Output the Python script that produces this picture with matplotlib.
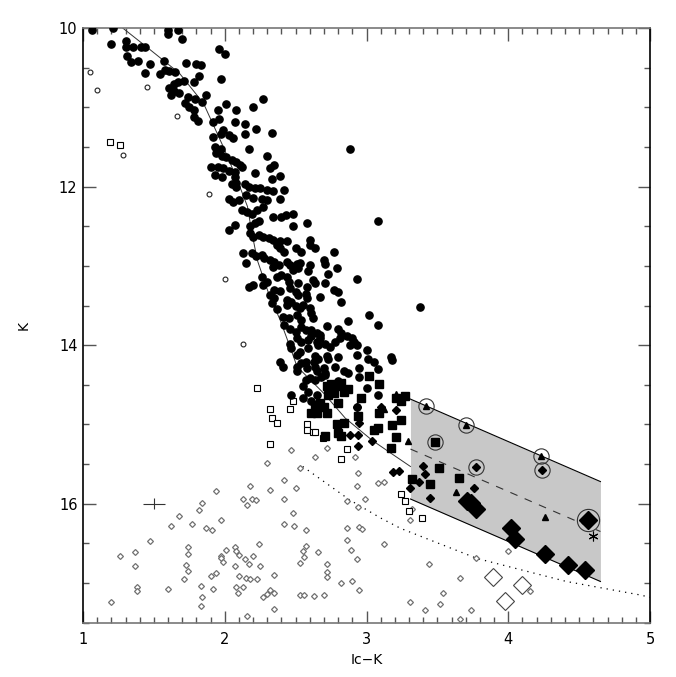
import matplotlib
matplotlib.use("Agg")
import matplotlib.pyplot as plt
import numpy as np
from matplotlib.ticker import MultipleLocator

# ---- data -----------------------------------------------------------------
# filled black circles (main sequence members)
circle_pts = [
    (1.06, 10.02), (1.21, 10.00), (1.60, 10.03), (1.60, 10.07), (1.67, 10.02),
    (1.20, 10.20), (1.70, 10.14), (1.30, 10.16), (1.30, 10.24), (1.35, 10.24),
    (1.41, 10.24), (1.44, 10.24), (1.96, 10.27), (2.00, 10.33), (1.31, 10.35),
    (1.34, 10.43), (1.39, 10.42), (1.47, 10.45), (1.57, 10.41), (1.73, 10.44),
    (1.80, 10.45), (1.83, 10.47), (1.44, 10.57), (1.54, 10.58), (1.58, 10.53),
    (1.61, 10.54), (1.65, 10.55), (1.82, 10.60), (1.71, 10.67), (1.78, 10.68),
    (1.97, 10.64), (1.64, 10.70), (1.67, 10.68), (1.61, 10.76), (1.64, 10.80),
    (1.68, 10.82), (1.62, 10.84), (1.74, 10.87), (1.79, 10.89), (1.87, 10.84),
    (1.84, 10.93), (1.72, 10.95), (1.75, 11.00), (1.78, 11.04), (2.01, 10.96),
    (2.27, 10.90), (2.20, 10.99), (2.08, 11.04), (1.95, 11.03), (1.78, 11.12),
    (1.81, 11.17), (1.92, 11.19), (1.96, 11.15), (2.07, 11.18), (2.14, 11.21),
    (2.22, 11.27), (2.33, 11.33), (1.99, 11.29), (1.97, 11.34), (2.03, 11.35),
    (2.06, 11.39), (1.92, 11.37), (2.14, 11.34), (1.93, 11.50), (1.97, 11.53),
    (1.94, 11.57), (2.17, 11.53), (2.88, 11.52), (2.30, 11.62), (1.98, 11.62),
    (2.01, 11.63), (2.05, 11.66), (2.08, 11.69), (2.11, 11.73), (1.90, 11.75),
    (1.95, 11.75), (1.99, 11.76), (2.03, 11.80), (2.07, 11.82), (2.12, 11.75),
    (2.21, 11.83), (2.32, 11.77), (2.35, 11.73), (1.93, 11.85), (1.98, 11.88),
    (2.07, 11.88), (2.08, 11.95), (2.33, 11.90), (2.39, 11.87), (2.05, 11.97),
    (2.08, 12.00), (2.14, 11.97), (2.17, 12.00), (2.21, 12.02), (2.25, 12.02),
    (2.30, 12.04), (2.34, 12.06), (2.42, 12.04), (2.39, 12.15), (2.03, 12.16),
    (2.06, 12.19), (2.10, 12.17), (2.15, 12.10), (2.20, 12.14), (2.26, 12.15),
    (2.30, 12.17), (2.12, 12.29), (2.16, 12.32), (2.19, 12.35), (2.23, 12.29),
    (2.27, 12.26), (2.34, 12.38), (2.40, 12.38), (2.43, 12.36), (2.48, 12.35),
    (3.08, 12.44),
    (2.03, 12.55), (2.07, 12.48), (2.18, 12.50), (2.21, 12.46), (2.24, 12.44),
    (2.48, 12.50), (2.58, 12.46), (2.18, 12.59), (2.20, 12.63), (2.24, 12.61),
    (2.27, 12.63), (2.31, 12.65), (2.34, 12.67), (2.39, 12.68), (2.44, 12.69),
    (2.37, 12.74), (2.39, 12.78), (2.42, 12.82), (2.50, 12.78), (2.54, 12.82),
    (2.60, 12.67), (2.60, 12.74), (2.64, 12.78), (2.77, 12.83), (2.13, 12.84),
    (2.19, 12.84), (2.22, 12.88), (2.26, 12.86), (2.28, 12.90), (2.32, 12.93),
    (2.15, 12.96), (2.35, 12.95), (2.38, 12.99), (2.34, 13.01), (2.44, 12.95),
    (2.46, 12.99), (2.51, 12.97), (2.53, 12.96), (2.48, 13.05), (2.52, 13.03),
    (2.60, 12.99), (2.59, 13.07), (2.70, 12.93), (2.71, 12.97), (2.79, 13.03),
    (2.73, 13.10), (2.26, 13.14), (2.37, 13.14), (2.40, 13.11), (2.44, 13.14),
    (2.45, 13.20), (2.52, 13.22), (2.62, 13.18), (2.64, 13.22), (2.58, 13.26),
    (2.71, 13.22), (2.93, 13.17), (2.17, 13.26), (2.20, 13.24), (2.27, 13.24),
    (2.30, 13.20), (2.35, 13.30), (2.39, 13.32), (2.46, 13.28), (2.50, 13.33),
    (2.52, 13.37), (2.57, 13.35), (2.58, 13.41), (2.77, 13.30), (2.80, 13.33),
    (2.67, 13.39), (2.82, 13.45), (2.32, 13.37), (2.35, 13.41), (2.33, 13.47),
    (2.37, 13.54), (2.44, 13.43), (2.47, 13.45), (2.44, 13.49), (2.50, 13.51),
    (2.53, 13.53), (2.55, 13.49), (2.60, 13.53), (2.61, 13.60), (3.38, 13.52),
    (3.02, 13.62), (2.41, 13.64), (2.45, 13.66), (2.51, 13.62), (2.54, 13.68),
    (2.62, 13.66), (2.42, 13.74), (2.46, 13.79), (2.54, 13.77), (2.57, 13.81),
    (2.61, 13.81), (2.65, 13.85), (2.67, 13.87), (2.72, 13.76), (2.80, 13.79),
    (2.82, 13.85), (2.87, 13.70), (3.08, 13.74), (2.50, 13.83), (2.51, 13.91),
    (2.54, 13.96), (2.59, 13.93), (2.61, 13.89), (2.65, 13.96), (2.67, 13.91),
    (2.71, 13.98), (2.74, 14.02), (2.78, 13.96), (2.81, 13.91), (2.86, 13.89),
    (2.90, 13.91), (2.91, 13.96), (2.46, 13.98), (2.47, 14.04), (2.59, 14.04),
    (2.66, 14.00), (2.88, 14.00), (2.93, 14.00), (3.00, 14.06), (2.51, 14.12),
    (2.53, 14.08), (2.64, 14.14), (2.66, 14.17), (2.63, 14.21), (2.72, 14.14),
    (2.73, 14.17), (2.80, 14.15), (2.93, 14.12), (3.01, 14.17), (3.05, 14.21),
    (3.17, 14.15), (3.18, 14.19), (2.39, 14.21), (2.41, 14.27), (2.51, 14.27),
    (2.54, 14.23), (2.57, 14.21), (2.51, 14.33), (2.58, 14.29), (2.64, 14.27),
    (2.65, 14.33), (2.70, 14.29), (2.71, 14.35), (2.78, 14.27), (2.84, 14.33),
    (2.87, 14.35), (2.95, 14.29), (3.08, 14.30), (2.57, 14.44), (2.60, 14.42),
    (2.64, 14.44), (2.68, 14.40), (2.71, 14.38), (2.80, 14.45), (2.95, 14.40),
    (2.47, 14.63), (2.55, 14.52), (2.59, 14.59), (2.55, 14.67), (2.61, 14.71),
    (2.65, 14.63), (3.00, 14.54), (2.93, 14.78), (3.08, 14.63),
]

# small open circles and small open squares (bright non-members)
open_circle_pts = [
    (1.05, 10.55), (1.10, 10.78), (1.45, 10.74), (1.66, 11.11), (1.28, 11.60),
    (1.89, 12.09), (2.13, 13.98), (2.00, 13.17),
]
open_square_pts = [
    (1.19, 11.44), (1.26, 11.48), (2.23, 14.54), (2.48, 14.71), (2.46, 14.80),
    (2.32, 14.80), (2.33, 14.92), (2.37, 14.98), (2.32, 15.25), (2.58, 14.99),
    (2.58, 15.07), (2.62, 15.10), (2.64, 15.10), (2.69, 15.17), (2.86, 15.31),
    (2.82, 15.44), (3.24, 15.88), (3.27, 15.97), (3.30, 16.09), (3.39, 16.18),
]

square_pts = [
    (3.02, 14.39), (3.09, 14.49), (2.96, 14.66), (2.80, 14.73), (2.72, 14.52),
    (2.75, 14.49), (2.79, 14.52), (2.82, 14.48), (2.84, 14.59), (2.77, 14.60),
    (2.73, 14.63), (2.87, 14.55), (2.64, 14.75), (2.67, 14.73), (2.70, 14.78),
    (2.61, 14.86), (2.65, 14.86), (2.72, 14.86), (2.94, 14.89), (2.79, 14.99),
    (2.84, 14.98), (2.80, 15.11), (2.82, 15.15), (2.71, 15.15), (3.05, 15.07),
    (3.08, 15.05), (3.18, 15.01), (3.24, 14.94), (3.21, 15.16), (3.17, 15.30),
    (3.09, 14.86), (3.21, 14.66), (3.27, 14.64), (3.24, 14.71), (3.32, 15.69),
    (3.45, 15.75), (3.51, 15.55), (3.48, 15.22), (3.65, 15.67),
]

diamond_pts = [
    (3.21, 14.82), (3.10, 14.78), (2.93, 14.78), (2.95, 14.98), (2.88, 15.13),
    (2.94, 15.13), (2.94, 15.27), (3.04, 15.21), (3.19, 15.60), (3.23, 15.59),
    (3.37, 15.73), (3.41, 15.62), (3.40, 15.52), (3.31, 15.80), (3.45, 15.93),
    (3.76, 15.80), (3.77, 15.53), (4.24, 15.58),
]

triangle_pts = [
    (3.21, 14.61), (3.12, 14.80), (3.29, 15.21), (3.63, 15.85), (4.26, 16.17),
    (3.42, 14.77), (3.70, 15.01), (4.23, 15.40),
]

big_diamond_pts = [
    (3.71, 15.97), (3.74, 15.99), (3.77, 16.06), (4.02, 16.30), (4.05, 16.45),
    (4.26, 16.63), (4.42, 16.77), (4.54, 16.84), (4.56, 16.21),
]
big_open_diamond_pts = [(3.89, 16.92), (4.10, 17.02), (3.98, 17.23)]

circled_pts = [
    (3.42, 14.77), (3.70, 15.01), (4.23, 15.40), (4.24, 15.58), (3.77, 15.53),
    (3.48, 15.22), (4.56, 16.21),
]
star_pt = (4.60, 16.41)

# faint field stars
field_pts = [
    (2.47, 15.32), (2.72, 15.30), (2.64, 15.41), (2.92, 15.41), (2.94, 15.61),
    (2.30, 15.48), (2.53, 15.55), (2.42, 15.70), (2.50, 15.80), (2.32, 15.83),
    (2.18, 15.78), (1.94, 15.84), (2.13, 15.94), (2.19, 15.94), (2.22, 15.95),
    (2.16, 16.02), (2.42, 15.94), (2.93, 15.78), (3.08, 15.74), (3.12, 15.73),
    (2.99, 15.94), (2.86, 15.96), (2.94, 16.04), (1.84, 15.99), (1.82, 16.08),
    (1.68, 16.16), (1.97, 16.20), (1.77, 16.25), (1.87, 16.30), (1.91, 16.33),
    (1.62, 16.28), (2.48, 16.12), (2.42, 16.26), (2.49, 16.28), (2.57, 16.33),
    (2.86, 16.31), (2.95, 16.29), (2.97, 16.32), (3.12, 16.51), (1.47, 16.47),
    (1.26, 16.66), (1.37, 16.61), (1.37, 16.78), (1.74, 16.54), (1.74, 16.63),
    (1.73, 16.77), (1.74, 16.85), (1.71, 16.95), (2.01, 16.58), (1.97, 16.66),
    (1.97, 16.69), (1.99, 16.73), (2.07, 16.54), (2.08, 16.59), (2.10, 16.65),
    (2.14, 16.70), (2.17, 16.76), (2.20, 16.66), (2.24, 16.51), (2.25, 16.78),
    (2.07, 16.78), (2.10, 16.91), (2.15, 16.93), (2.18, 16.95), (2.23, 16.95),
    (1.90, 16.91), (1.94, 16.87), (1.83, 17.04), (1.60, 17.07), (1.38, 17.05),
    (1.38, 17.10), (1.92, 17.08), (1.84, 17.18), (2.08, 17.05), (2.13, 17.05),
    (2.09, 17.13), (1.83, 17.29), (1.20, 17.24), (2.27, 17.17), (2.30, 17.14),
    (2.32, 17.09), (2.35, 17.12), (2.35, 17.33), (2.35, 16.90), (2.16, 17.41),
    (2.53, 16.75), (2.55, 16.60), (2.56, 16.67), (2.57, 16.53), (2.66, 16.61),
    (2.72, 16.76), (2.72, 16.86), (2.72, 16.92), (2.53, 17.15), (2.56, 17.15),
    (2.63, 17.16), (2.70, 17.15), (2.82, 17.00), (2.90, 16.97), (2.95, 17.09),
    (2.86, 16.46), (2.89, 16.58), (2.93, 16.70), (3.32, 16.06),
    (3.31, 16.20), (3.44, 16.76), (3.77, 16.69), (4.00, 16.60),
    (3.66, 16.94), (3.54, 17.13), (3.31, 17.24), (3.52, 17.26), (3.41, 17.34),
    (3.74, 17.34), (4.15, 17.10), (3.66, 17.45),
]

# model sequence (solid) and lower limit (dotted)
iso_x = [1.28, 1.45, 1.68, 1.85, 1.99, 2.08, 2.16, 2.19, 2.23, 2.31, 2.39,
         2.46, 2.51, 2.70, 2.85, 3.04, 3.17, 3.31]
iso_k = [10.0, 10.24, 10.57, 10.95, 11.50, 11.88, 12.25, 12.57, 12.93, 13.35,
         13.68, 14.02, 14.27, 14.61, 14.92, 15.20, 15.36, 15.53]
lim_x = [2.55, 2.88, 3.10, 3.24, 3.78, 4.41, 4.93, 5.0]
lim_k = [15.53, 15.95, 16.18, 16.31, 16.69, 16.98, 17.15, 17.18]

# shaded band
band_x = [3.31, 4.65]
band_top = [14.68, 15.72]
band_bot = [15.94, 16.98]

# typical error bar
err_x, err_k = 1.50, 16.0
err_dx, err_dk = 0.08, 0.07


def xy(pts):
    a = np.array(pts)
    return a[:, 0], a[:, 1]


fig = plt.figure(figsize=(6.76, 6.77), dpi=100)
ax = fig.add_axes([0.1228, 0.0802, 0.8388, 0.8784])

ax.fill_between(band_x, band_top, band_bot, color="#c8c8c8", lw=0, zorder=1)
ax.plot(band_x, band_top, color="black", lw=0.8, zorder=2)
ax.plot(band_x, band_bot, color="black", lw=0.8, zorder=2)
ax.plot(band_x, [(a + b) / 2 for a, b in zip(band_top, band_bot)],
        color="#333333", lw=0.8, ls=(0, (7, 7)), zorder=2)

ax.plot(iso_x, iso_k, color="#333333", lw=0.7, zorder=2)
ax.plot(lim_x, lim_k, color="black", lw=0.9, ls=(0, (1, 4)), zorder=2)

fx, fk = xy(field_pts)
ax.plot(fx, fk, "D", ms=3.0, mfc="white", mec="#707070", mew=0.9, ls="none", zorder=3)

x, k = xy(open_circle_pts)
ax.plot(x, k, "o", ms=3.5, mfc="white", mec="#222222", mew=0.8, ls="none", zorder=3)
x, k = xy(open_square_pts)
ax.plot(x, k, "s", ms=4.2, mfc="white", mec="black", mew=0.8, ls="none", zorder=3)

x, k = xy(circle_pts)
ax.plot(x, k, "o", ms=5.2, color="black", ls="none", zorder=4)
x, k = xy(square_pts)
ax.plot(x, k, "s", ms=5.4, color="black", ls="none", zorder=4)
x, k = xy(diamond_pts)
ax.plot(x, k, "D", ms=3.8, color="black", ls="none", zorder=4)
x, k = xy(triangle_pts)
ax.plot(x, k, "^", ms=5.0, color="black", ls="none", zorder=4)
x, k = xy(big_diamond_pts)
ax.plot(x, k, "D", ms=9.0, color="black", ls="none", zorder=4)
x, k = xy(big_open_diamond_pts)
ax.plot(x, k, "D", ms=9.0, mfc="white", mec="#444444", mew=0.8, ls="none", zorder=4)

x, k = xy(circled_pts)
ax.plot(x[:-1], k[:-1], "o", ms=11, mfc="none", mec="#333333", mew=0.8, ls="none", zorder=5)
ax.plot(x[-1:], k[-1:], "o", ms=16, mfc="none", mec="#333333", mew=0.8, ls="none", zorder=5)
ax.plot(*star_pt, marker=(6, 2, 0), ms=7, color="black", mew=0.8, zorder=5)

ax.errorbar(err_x, err_k, xerr=err_dx, yerr=err_dk, fmt="none",
            ecolor="#333333", elinewidth=0.8, capsize=0, zorder=5)

ax.set_xlim(1, 5)
ax.set_ylim(17.5, 10)
ax.xaxis.set_major_locator(MultipleLocator(1))
ax.xaxis.set_minor_locator(MultipleLocator(0.1))
ax.yaxis.set_major_locator(MultipleLocator(2))
ax.yaxis.set_minor_locator(MultipleLocator(0.5))
ax.tick_params(which="both", direction="in", top=True, right=True,
               color="#555555", labelsize=10.5)
ax.tick_params(which="major", length=9, width=1.0)
ax.tick_params(which="minor", length=4.5, width=1.0)
ax.tick_params(axis="x", pad=7)
ax.tick_params(axis="y", pad=4)

for side in ("left", "right"):
    ax.spines[side].set_color("black")
for side in ("top", "bottom"):
    ax.spines[side].set_color("#777777")
for sp in ax.spines.values():
    sp.set_linewidth(1.2)

ax.set_xlabel("Ic\u2212K", fontsize=10)
ax.set_ylabel("K", fontsize=10, rotation=90, labelpad=20)

fig.savefig("out.png", dpi=100)
